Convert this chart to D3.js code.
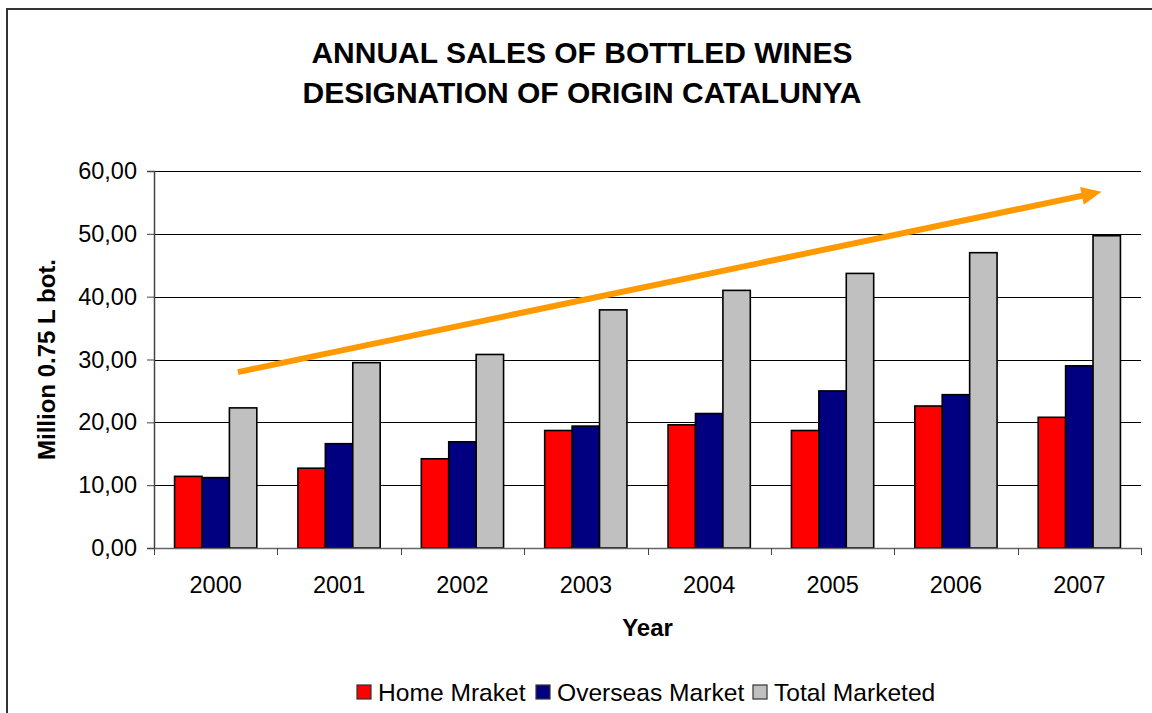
<!DOCTYPE html>
<html>
<head>
<meta charset="utf-8">
<script src="https://cdn.jsdelivr.net/npm/d3@7"></script>
<style>
  html, body { margin: 0; padding: 0; background: #fff; }
  svg { display: block; font-family: "Liberation Sans", Arial, sans-serif; }
</style>
</head>
<body>
<svg id="chart" width="1152" height="713"></svg>
<script>
// ---- data ----
const years = ["2000", "2001", "2002", "2003", "2004", "2005", "2006", "2007"];
const seriesNames = ["Home Mraket", "Overseas Market", "Total Marketed"];
const homeMarket = [11.4, 12.7, 14.2, 18.7, 19.6, 18.7, 22.6, 20.8];
const overseasMarket = [11.2, 16.6, 16.9, 19.4, 21.4, 25.0, 24.4, 29.0];
const totalMarketed = [22.3, 29.5, 30.8, 37.9, 41.0, 43.7, 47.0, 49.7];
const yTicks = [0, 10, 20, 30, 40, 50, 60];
const titleLines = ["ANNUAL SALES OF BOTTLED WINES", "DESIGNATION OF ORIGIN CATALUNYA"];
const trendStart = { year: "2000", value: 28.0 };
const trendEnd = { year: "2007", value: 56.7 };

const seriesValues = [homeMarket, overseasMarket, totalMarketed];
const colors = ["#FF0000", "#000080", "#C0C0C0"];

// ---- layout ----
const svg = d3.select("#chart");
const plot = { left: 154, right: 1141, top: 171, bottom: 548 };

// outer frame
svg.append("rect")
  .attr("x", 7).attr("y", 9).attr("width", 1160).attr("height", 720)
  .attr("fill", "none").attr("stroke", "#333").attr("stroke-width", 2);

const x0 = d3.scaleBand().domain(years).range([plot.left, plot.right]).padding(0);
const x1 = d3.scaleBand().domain(seriesNames).range([0, x0.bandwidth()])
  .paddingInner(0).paddingOuter(0.75);
const y = d3.scaleLinear().domain([0, 60]).range([plot.bottom, plot.top]);

// gridlines
svg.append("g").selectAll("line").data(yTicks.filter(t => t > 0)).join("line")
  .attr("x1", plot.left).attr("x2", plot.right)
  .attr("y1", d => Math.round(y(d)) + 0.5).attr("y2", d => Math.round(y(d)) + 0.5)
  .attr("stroke", "#000").attr("stroke-width", 1);

// y axis
const yAxis = d3.axisLeft(y).tickValues(yTicks).tickSize(7).tickPadding(10)
  .tickFormat(d => d3.format(".2f")(d).replace(".", ","));
const gy = svg.append("g").attr("transform", `translate(${plot.left},0)`).call(yAxis);
gy.select(".domain").attr("stroke", "#444").attr("stroke-width", 1.5);
gy.selectAll(".tick line").attr("stroke", "#444");
gy.selectAll(".tick text").attr("font-size", 23.5).attr("fill", "#000")
  .attr("font-family", "Liberation Sans, Arial, sans-serif");

// bars
const groups = svg.append("g").selectAll("g").data(years).join("g")
  .attr("transform", d => `translate(${x0(d)},0)`);
groups.selectAll("rect")
  .data((d, i) => seriesNames.map((s, j) => ({ s, j, v: seriesValues[j][i] })))
  .join("rect")
  .attr("x", d => x1(d.s))
  .attr("width", x1.bandwidth())
  .attr("y", d => y(d.v))
  .attr("height", d => y(0) - y(d.v))
  .attr("fill", d => colors[d.j])
  .attr("stroke", "#000").attr("stroke-width", 1.6);

// x axis
const xAxis = d3.axisBottom(x0).tickSize(0).tickPadding(28);
const gx = svg.append("g").attr("transform", `translate(0,${plot.bottom})`).call(xAxis);
gx.select(".domain").attr("stroke", "#666").attr("stroke-width", 1.5);
gx.selectAll(".tick text").attr("font-size", 23.5).attr("fill", "#000")
  .attr("font-family", "Liberation Sans, Arial, sans-serif");
// category boundary ticks
const boundaries = years.map(d => x0(d)).concat([plot.right]);
svg.append("g").selectAll("line").data(boundaries).join("line")
  .attr("x1", d => Math.round(d) + 0.5).attr("x2", d => Math.round(d) + 0.5)
  .attr("y1", plot.bottom).attr("y2", plot.bottom + 7)
  .attr("stroke", "#444").attr("stroke-width", 1);

// trend arrow
const frac = 0.68;
const ax1 = x0(trendStart.year) + frac * x0.step(), ay1 = y(trendStart.value);
const ax2 = x0(trendEnd.year) + frac * x0.step(), ay2 = y(trendEnd.value);
const ang = Math.atan2(ay2 - ay1, ax2 - ax1);
const headLen = 20, headHalf = 9;
const bx = ax2 - headLen * Math.cos(ang), by = ay2 - headLen * Math.sin(ang);
svg.append("line")
  .attr("x1", ax1).attr("y1", ay1).attr("x2", bx + 2 * Math.cos(ang)).attr("y2", by + 2 * Math.sin(ang))
  .attr("stroke", "#FF9900").attr("stroke-width", 6);
svg.append("polygon")
  .attr("points", [
    [ax2, ay2],
    [bx - headHalf * Math.sin(ang), by + headHalf * Math.cos(ang)],
    [bx + headHalf * Math.sin(ang), by - headHalf * Math.cos(ang)]
  ].map(p => p.join(",")).join(" "))
  .attr("fill", "#FF9900");

// title
svg.append("text").attr("x", 582).attr("y", 63).attr("text-anchor", "middle")
  .attr("font-size", 30).attr("font-weight", "bold").text(titleLines[0]);
svg.append("text").attr("x", 582).attr("y", 103).attr("text-anchor", "middle")
  .attr("font-size", 30).attr("font-weight", "bold").text(titleLines[1]);

// axis titles
svg.append("text").attr("x", (plot.left + plot.right) / 2).attr("y", 636)
  .attr("text-anchor", "middle").attr("font-size", 24).attr("font-weight", "bold").text("Year");
svg.append("text")
  .attr("transform", `translate(55,${(plot.top + plot.bottom) / 2}) rotate(-90)`)
  .attr("text-anchor", "middle").attr("font-size", 24).attr("font-weight", "bold")
  .text("Million 0.75 L bot.");

// legend
const legendX = [357, 536, 753];
const lg = svg.append("g").selectAll("g").data(seriesNames).join("g")
  .attr("transform", (d, i) => `translate(${legendX[i]},0)`);
lg.append("rect").attr("x", 0).attr("y", 685).attr("width", 14).attr("height", 14)
  .attr("fill", (d, i) => colors[i]).attr("stroke", "#333").attr("stroke-width", 1.2);
lg.append("text").attr("x", 21).attr("y", 701).attr("font-size", 24.6).text(d => d);
</script>
</body>
</html>
